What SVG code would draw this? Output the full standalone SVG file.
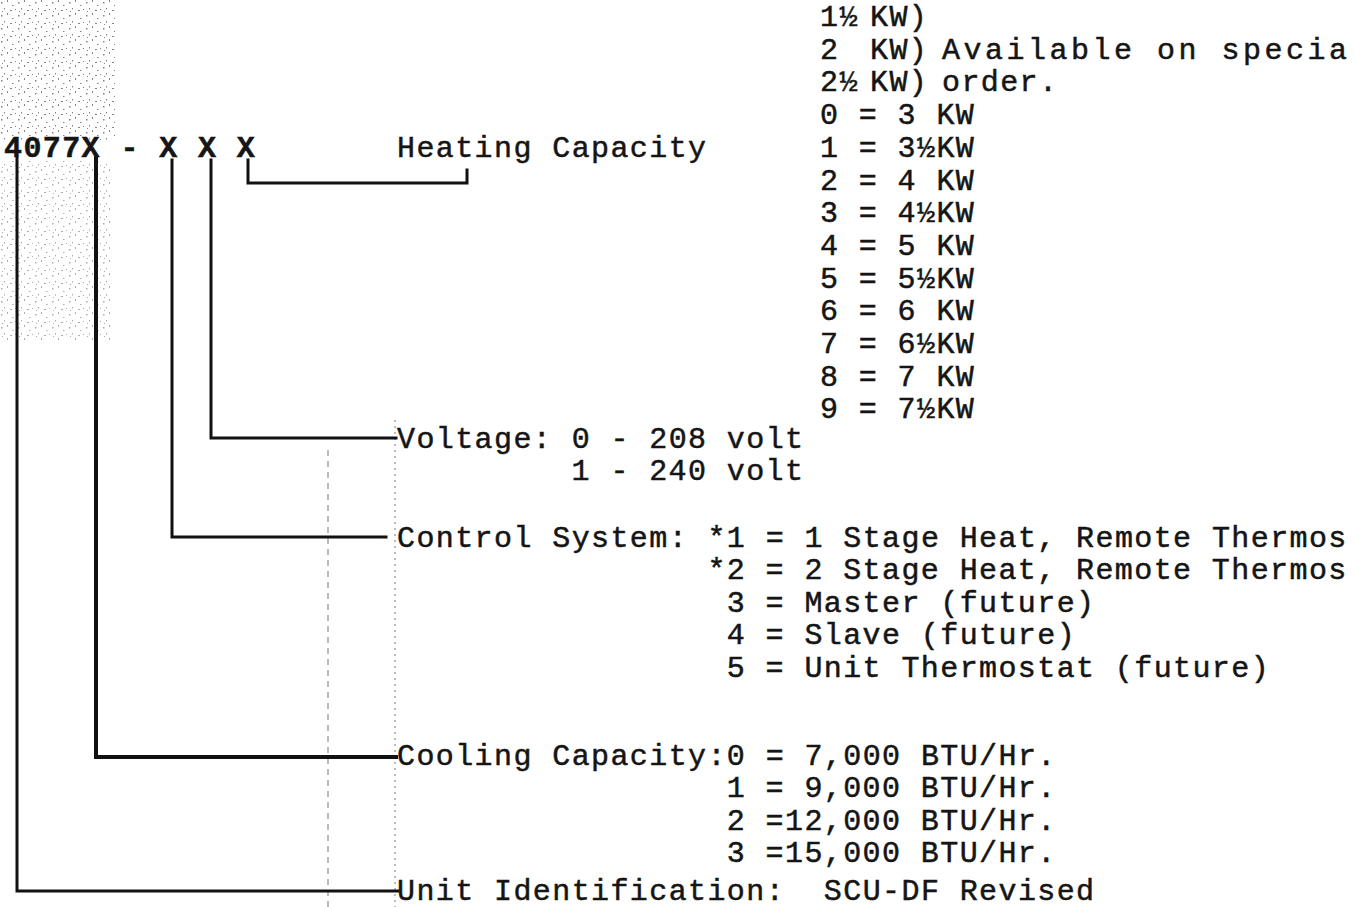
<svg xmlns="http://www.w3.org/2000/svg" width="1355" height="907" viewBox="0 0 1355 907">
<defs>
<pattern id="speck" width="17" height="13" patternUnits="userSpaceOnUse">
<rect x="1" y="2" width="1.5" height="1.5" fill="#333"/>
<rect x="7" y="0" width="1" height="2" fill="#333"/>
<rect x="12" y="5" width="1.5" height="1" fill="#333"/>
<rect x="4" y="8" width="1" height="1.5" fill="#333"/>
<rect x="10" y="10" width="2" height="1" fill="#333"/>
<rect x="15" y="9" width="1" height="1" fill="#333"/>
<rect x="2" y="11" width="1" height="1" fill="#333"/>
</pattern>
</defs>
<style>
text{font-family:"Liberation Mono","Courier New",monospace;font-size:30px;letter-spacing:1.4px;fill:#151515;stroke:#151515;stroke-width:0.5px;white-space:pre}
.bold{font-weight:bold}
.ln{fill:none;stroke:#111;stroke-width:3;stroke-linecap:square}
.thick{stroke-width:4}
.art{fill:none;stroke:#444;stroke-width:1.2;stroke-dasharray:6 5;opacity:0.6}
</style>
<rect width="1355" height="907" fill="#fff"/>
<g id="artifacts">
<rect x="0" y="0" width="115" height="140" fill="url(#speck)" opacity="0.6"/>
<rect x="0" y="160" width="110" height="180" fill="url(#speck)" opacity="0.4"/>
<line class="art" x1="328" y1="450" x2="328" y2="907"/>
<line class="art" x1="395" y1="420" x2="395" y2="907" style="stroke-dasharray:2 4"/>
</g>
<g id="connectors">
<path class="ln" d="M17,158 V891 H398"/>
<path class="ln thick" d="M96,158 V757 H396"/>
<path class="ln" d="M172,160 V537 H386"/>
<path class="ln" d="M211,160 V438 H396"/>
<path class="ln" d="M248,160 V183 H467 V170"/>
</g>
<g id="model-code">
<text x="4" y="157" class="bold">4077X - X X X</text>
</g>
<g id="heating">
<text x="397" y="157">Heating Capacity</text>
<text y="26"><tspan x="820">1½</tspan><tspan x="870">KW)</tspan></text>
<text y="58.7"><tspan x="820">2</tspan><tspan x="870">KW)</tspan><tspan x="942" style="letter-spacing:3.5px">Available on specia</tspan></text>
<text y="91.4"><tspan x="820">2½</tspan><tspan x="870">KW)</tspan><tspan x="942">order.</tspan></text>
<text x="820" y="124">0 = 3 KW</text>
<text x="820" y="156.8">1 = 3½KW</text>
<text x="820" y="189.5">2 = 4 KW</text>
<text x="820" y="222">3 = 4½KW</text>
<text x="820" y="255">4 = 5 KW</text>
<text x="820" y="287.6">5 = 5½KW</text>
<text x="820" y="320">6 = 6 KW</text>
<text x="820" y="353">7 = 6½KW</text>
<text x="820" y="385.7">8 = 7 KW</text>
<text x="820" y="418.4">9 = 7½KW</text>
</g>
<g id="voltage">
<text x="397" y="448">Voltage: 0 - 208 volt</text>
<text x="571.6" y="480">1 - 240 volt</text>
</g>
<g id="control">
<text x="397" y="547">Control System: *1 = 1 Stage Heat, Remote Thermos</text>
<text x="707.4" y="579">*2 = 2 Stage Heat, Remote Thermos</text>
<text x="726.8" y="612">3 = Master (future)</text>
<text x="726.8" y="644">4 = Slave (future)</text>
<text x="726.8" y="677">5 = Unit Thermostat (future)</text>
</g>
<g id="cooling">
<text x="397" y="765">Cooling Capacity:0 = 7,000 BTU/Hr.</text>
<text x="726.8" y="797">1 = 9,000 BTU/Hr.</text>
<text x="726.8" y="830">2 =12,000 BTU/Hr.</text>
<text x="726.8" y="862">3 =15,000 BTU/Hr.</text>
</g>
<g id="unit-id">
<text x="397" y="900">Unit Identification:&#160; SCU-DF Revised</text>
</g>
</svg>
